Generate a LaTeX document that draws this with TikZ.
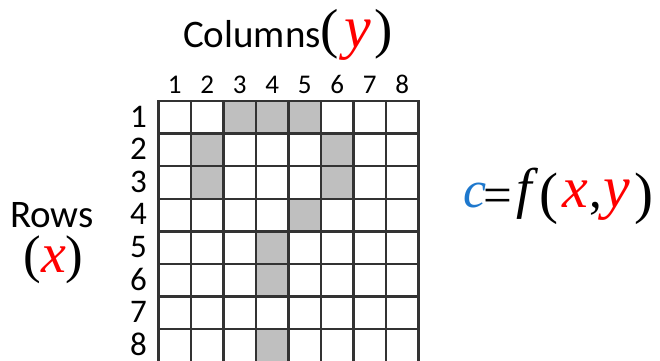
\documentclass[tikz,border=0pt]{standalone}
\usepackage{fontspec}
\setmainfont{Carlito}
\newfontfamily\parenfont{Liberation Serif}
\newcommand\vlet[2]{{\fontsize{#1}{#1}\parenfont\itshape #2}}
\definecolor{vred}{RGB}{255,0,0}
\definecolor{vblue}{RGB}{30,120,205}
\begin{document}
\begin{tikzpicture}[x=1pt,y=-1pt,
  gridline/.style={draw=black!80,line width=2.3pt,line cap=rect},
  shadedcell/.style={fill=black!25},
  colnum/.style={font=\fontsize{27}{27}\selectfont,anchor=base,inner sep=0pt},
  rownum/.style={font=\fontsize{33}{33}\selectfont,anchor=base,inner sep=0pt},
  title/.style={font=\fontsize{39}{39}\selectfont,anchor=base west,inner sep=0pt},
  bigtext/.style={anchor=base west,inner sep=0pt}]
\useasboundingbox (0,0) rectangle (660,360);
\def\L{158.5}\def\T{101}\def\W{32.5}\def\H{32.6}
\begin{scope}
\clip (0,0) rectangle (660,360);
\foreach \r/\c in {1/3,1/4,1/5,2/2,2/6,3/2,3/6,4/5,5/4,6/4,8/4}
  \fill[shadedcell] ({\L+(\c-1)*\W},{\T+(\r-1)*\H}) rectangle +(\W,\H);
\foreach \i in {0,...,8} {
  \draw[gridline] ({\L+\i*\W},\T) -- ({\L+\i*\W},{\T+8*\H});
  \draw[gridline] (\L,{\T+\i*\H}) -- ({\L+8*\W},{\T+\i*\H});
}
\end{scope}
\foreach \c in {1,...,8}
  \node[colnum] (col\c) at ({\L+(\c-0.5)*\W},93) {\c};
\foreach \r in {1,...,8}
  \node[rownum] (row\r) at (138.5,{127+(\r-1)*\H}) {\r};
\node[title] (coltitle) at (183,47) {Columns\makebox[18pt]{\fontsize{55}{55}\parenfont (}\makebox[38pt]{\color{vred}\vlet{60}{y}}\makebox[14pt]{\fontsize{55}{55}\parenfont )}};
\node[title] (rowtitle) at (10,227) {Rows};
\node[bigtext] (rowvar) at (24,272) {\makebox[17pt]{\fontsize{53}{53}\parenfont (}\makebox[25pt]{\color{vred}\vlet{56}{x}}\makebox[16pt]{\fontsize{53}{53}\parenfont )}};
\node[bigtext,font=\fontsize{51}{51}\selectfont] (formula) at (463,207) {\makebox[23pt]{\color{vblue}\vlet{52}{c}}\makebox[24pt]{\raisebox{-5pt}{\parenfont =}}\makebox[28pt]{\vlet{56}{f}}\makebox[21pt]{\raisebox{-5pt}{\fontsize{57}{57}\parenfont (}}\makebox[32pt]{\color{vred}\vlet{58}{x}}\makebox[9pt]{\parenfont ,}\makebox[33pt]{\color{vred}\vlet{60}{y}}\makebox[22pt]{\raisebox{-5pt}{\fontsize{57}{57}\parenfont )}}};
\end{tikzpicture}
\end{document}
